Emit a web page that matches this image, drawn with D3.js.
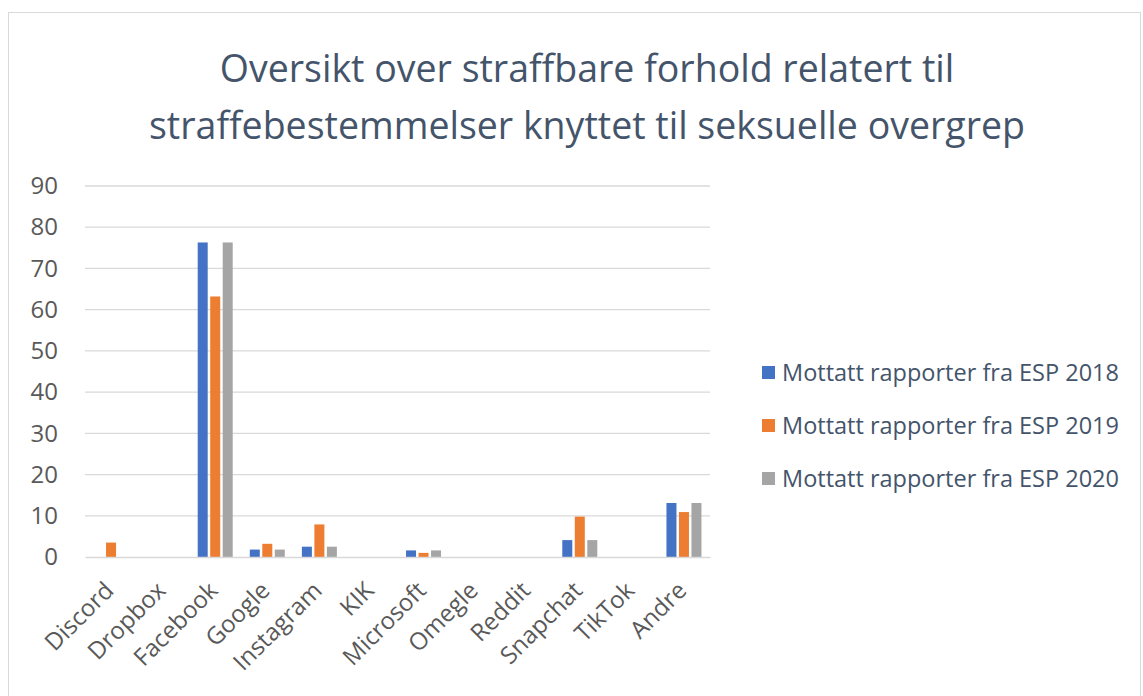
<!DOCTYPE html>
<html lang="no">
<head>
<meta charset="UTF-8">
<title>Oversikt over straffbare forhold</title>
<script src="https://d3js.org/d3.v7.min.js"></script>
<style>
  body { margin: 0; background: #fff; }
  text { font-family: "Open Sans", "Noto Sans", sans-serif; }
</style>
</head>
<body>
<script>
// data
var categories = ["Discord", "Dropbox", "Facebook", "Google", "Instagram", "KIK",
                  "Microsoft", "Omegle", "Reddit", "Snapchat", "TikTok", "Andre"];
var series = ["Mottatt rapporter fra ESP 2018", "Mottatt rapporter fra ESP 2019", "Mottatt rapporter fra ESP 2020"];
var values2018 = [0, 0, 76.3, 1.8, 2.5, 0, 1.6, 0, 0, 4.1, 0, 13.1];
var values2019 = [3.5, 0, 63.2, 3.2, 7.9, 0, 1.0, 0, 0, 9.8, 0, 10.9];
var values2020 = [0, 0, 76.3, 1.8, 2.5, 0, 1.6, 0, 0, 4.1, 0, 13.1];
var yTicks = [0, 10, 20, 30, 40, 50, 60, 70, 80, 90];
var colors = ["#4472c4", "#ed7d31", "#a5a5a5"];

var allValues = [values2018, values2019, values2020];

var W = 1143, H = 696;
var margin = {top: 186, left: 85, right: 433, bottom: 139};
var width = W - margin.left - margin.right,
    height = H - margin.top - margin.bottom;

var svg = d3.select("body").append("svg")
    .attr("width", W)
    .attr("height", H);

// chart frame
svg.append("rect")
    .attr("x", 8.5).attr("y", 12.5)
    .attr("width", 1132).attr("height", 700)
    .attr("fill", "#fff")
    .attr("stroke", "#d9d9d9");

// title
svg.append("text")
    .attr("x", 587).attr("y", 82)
    .attr("text-anchor", "middle")
    .attr("fill", "#44546a")
    .style("font-size", "37.5px")
    .text("Oversikt over straffbare forhold relatert til");
svg.append("text")
    .attr("x", 587).attr("y", 139)
    .attr("text-anchor", "middle")
    .attr("fill", "#44546a")
    .style("font-size", "37.5px")
    .text("straffebestemmelser knyttet til seksuelle overgrep");

var g = svg.append("g")
    .attr("transform", "translate(" + margin.left + "," + margin.top + ")");

var x = d3.scaleBand().domain(categories).range([0, width]);
var xs = d3.scaleBand().domain([0, 1, 2]).range([0, 35]).paddingInner(0.2);
var y = d3.scaleLinear().domain([0, 90]).range([height, 0]);

// gridlines
g.append("g")
    .selectAll("line")
    .data(yTicks.slice(1))
  .enter().append("line")
    .attr("x1", 0).attr("x2", width)
    .attr("y1", function(d) { return y(d); })
    .attr("y2", function(d) { return y(d); })
    .attr("stroke", "#d9d9d9")
    .attr("stroke-width", 1.3);

// y axis
var yAxis = g.append("g")
    .call(d3.axisLeft(y).tickValues(yTicks).tickSize(0).tickPadding(27));
yAxis.select(".domain").remove();
yAxis.selectAll("text")
    .attr("fill", "#595959")
    .style("font-size", "24px");

// bars
allValues.forEach(function(vals, si) {
  g.append("g")
    .selectAll("rect")
    .data(vals)
  .enter().append("rect")
    .attr("x", function(d, i) { return x(categories[i]) + (x.bandwidth() - 35) / 2 + xs(si); })
    .attr("width", xs.bandwidth())
    .attr("y", function(d) { return y(d); })
    .attr("height", function(d) { return height - y(d); })
    .attr("fill", colors[si]);
});

// x axis
var xAxis = g.append("g")
    .attr("transform", "translate(0," + height + ")")
    .call(d3.axisBottom(x).tickSize(0).tickPadding(0));
xAxis.select(".domain")
    .attr("stroke", "#d9d9d9")
    .attr("stroke-width", 1.3);
xAxis.selectAll("text")
    .attr("fill", "#595959")
    .style("font-size", "24px")
    .style("text-anchor", "end")
    .attr("x", 0).attr("y", 0)
    .attr("dx", 0).attr("dy", 0)
    .attr("transform", "translate(4,35) rotate(-45)");

// legend
var legend = svg.append("g")
    .selectAll("g")
    .data(series)
  .enter().append("g")
    .attr("transform", function(d, i) { return "translate(762," + (366 + i * 53) + ")"; });
legend.append("rect")
    .attr("width", 13).attr("height", 13)
    .attr("fill", function(d, i) { return colors[i]; });
legend.append("text")
    .attr("x", 20).attr("y", 7)
    .attr("dy", "0.35em")
    .attr("fill", "#44546a")
    .style("font-size", "23.5px")
    .text(function(d) { return d; });
</script>
</body>
</html>
